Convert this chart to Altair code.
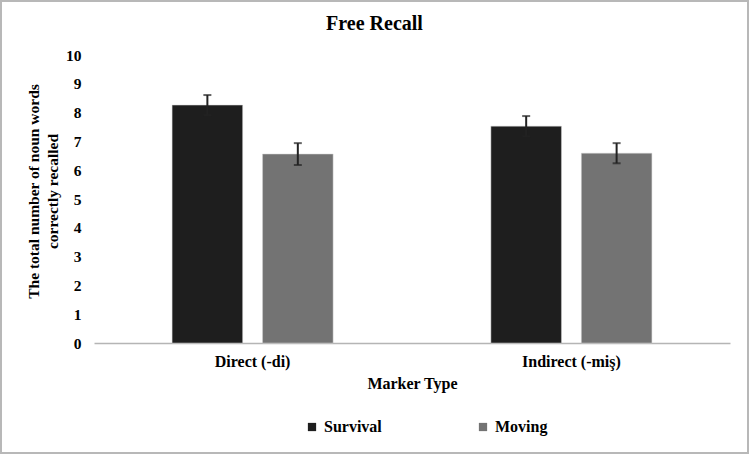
import altair as alt
import pandas as pd

# Mean number of noun words correctly recalled, with error-bar half-widths
markers = ["Direct (-di)", "Indirect (-miş)"]
conditions = ["Survival", "Moving"]
survival_means = [8.26, 7.53]
moving_means = [6.56, 6.59]
survival_err = [0.35, 0.35]
moving_err = [0.38, 0.35]
bar_colors = ["#1e1e1e", "#737373"]
y_ticks = list(range(0, 11))
chart_title = "Free Recall"

rows = []
for i, m in enumerate(markers):
    rows.append(dict(marker=m, condition="Survival", mean=survival_means[i], err=survival_err[i]))
    rows.append(dict(marker=m, condition="Moving", mean=moving_means[i], err=moving_err[i]))
df = pd.DataFrame(rows)
df["lo"] = df["mean"] - df["err"]
df["hi"] = df["mean"] + df["err"]

FONT = "Liberation Serif"
W, H = 636, 288

x_axis = alt.Axis(
    title="Marker Type",
    labelAngle=0,
    ticks=False,
    domainColor="#b5b5b5",
    domainWidth=1.5,
    labelPadding=10,
    titlePadding=6,
    labelFont=FONT,
    titleFont=FONT,
    labelFontSize=16,
    titleFontSize=16,
    labelFontWeight="bold",
    titleFontWeight="bold",
    labelColor="black",
    titleColor="black",
)
y_axis = alt.Axis(
    values=y_ticks,
    grid=False,
    domain=False,
    ticks=False,
    labelOverlap=False,
    labelPadding=13,
    labelFont=FONT,
    labelFontSize=15.5,
    labelFontWeight="bold",
    labelColor="black",
    title=["The total number of noun words", "correctly recalled"],
    titleFont=FONT,
    titleFontSize=15.5,
    titleFontWeight="bold",
    titleColor="black",
    titlePadding=5,
    titleLineHeight=19,
    titleY=136,
)
x_scale = alt.Scale(paddingInner=0.495, paddingOuter=0.245)
xoff_scale = alt.Scale(paddingInner=0.22, paddingOuter=0)
y_scale = alt.Scale(domain=[0, 10], nice=False)


def xpos():
    return dict(
        x=alt.X("marker:N", sort=markers, scale=x_scale, axis=x_axis),
        xOffset=alt.XOffset("condition:N", sort=conditions, scale=xoff_scale),
    )


base = alt.Chart(df)

bars = base.mark_bar(stroke="#d0d0d0", strokeWidth=0.5).encode(
    y=alt.Y("mean:Q", scale=y_scale, axis=y_axis),
    color=alt.Color(
        "condition:N",
        sort=conditions,
        scale=alt.Scale(domain=conditions, range=bar_colors),
        legend=alt.Legend(
            title=None,
            orient="none",
            legendX=210,
            legendY=364,
            direction="horizontal",
            symbolType="square",
            symbolSize=68,
            symbolStrokeWidth=0,
            columnPadding=93,
            labelOffset=4,
            labelFont=FONT,
            labelFontSize=16,
            labelFontWeight="bold",
            labelColor="black",
        ),
    ),
    **xpos(),
)

err_rule = base.mark_rule(color="#222222", strokeWidth=2).encode(
    y=alt.Y("lo:Q", scale=y_scale, axis=y_axis), y2="hi:Q", **xpos()
)
cap_hi = base.mark_tick(color="#222222", thickness=2, size=8).encode(
    y=alt.Y("hi:Q", scale=y_scale, axis=y_axis), **xpos()
)
cap_lo = base.mark_tick(color="#222222", thickness=2, size=8).encode(
    y=alt.Y("lo:Q", scale=y_scale, axis=y_axis), **xpos()
)

# chart heading, centred across the full figure width
heading = alt.Chart(pd.DataFrame({"t": [chart_title]})).mark_text(
    font=FONT, fontSize=20, fontWeight="bold", color="black",
    align="center", baseline="middle"
).encode(text="t:N", x=alt.value(280.5), y=alt.value(-31))

# light grey frame around the whole figure
frame = alt.Chart(pd.DataFrame({"f": [0]})).mark_rect(
    fill=None, stroke="#b8b8b8", strokeWidth=2
).encode(
    x=alt.value(-93), x2=alt.value(W + 18),
    y=alt.value(-54), y2=alt.value(H + 110),
)

chart = (
    alt.layer(bars, err_rule, cap_hi, cap_lo, heading, frame)
    .properties(
        width=W,
        height=H,
        autosize=alt.AutoSizeParams(type="none"),
        padding={"left": 94, "top": 55, "right": 19, "bottom": 111},
    )
    .configure(font=FONT, background="white")
    .configure_view(stroke=None)
)

chart.save("out.html", embed_options={"renderer": "svg", "actions": False})
